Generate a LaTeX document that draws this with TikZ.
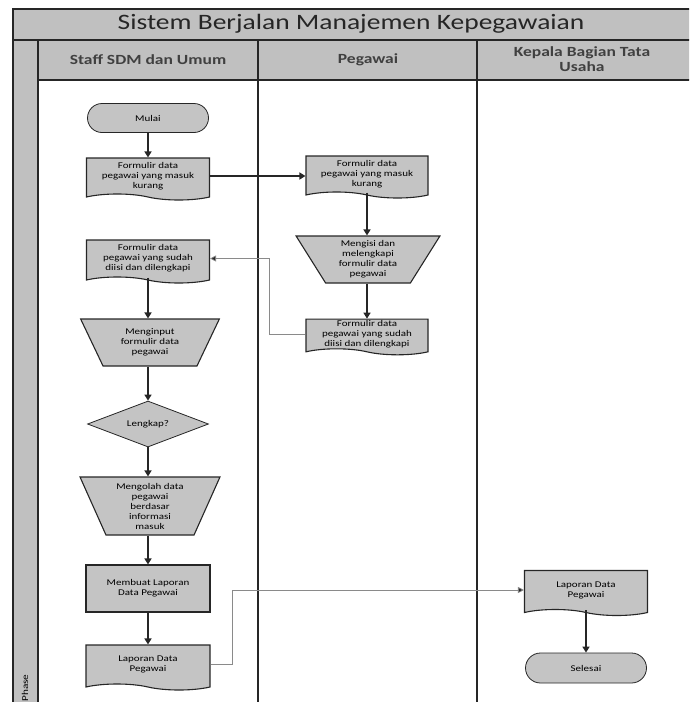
\documentclass[tikz,border=0pt]{standalone}
\usepackage{fontspec}
\setmainfont{Carlito}
\newfontfamily\stretched[FakeStretch=1.25]{Carlito}
\usetikzlibrary{shapes.geometric,shapes.symbols,shapes.misc,arrows.meta}
\definecolor{hdr}{HTML}{C0C0C0}
\definecolor{shpfill}{HTML}{C4C4C4}
\definecolor{edge}{HTML}{262626}
\definecolor{thinline}{HTML}{8A8A8A}
\begin{document}
\begin{tikzpicture}[x=1pt,y=-1pt,
  frame/.style={draw=edge,line width=1.6pt},
  shapetext/.style={font=\stretched\fontsize{8.8}{10}\selectfont,align=center,inner sep=1pt},
  box/.style={shapetext,draw=edge,line width=1.1pt,fill=shpfill},
  procbox/.style 2 args={box,rectangle,minimum width=#1,minimum height=#2},
  docbox/.style 2 args={box,tape,tape bend top=none,tape bend bottom=out and in,tape bend height=6pt,minimum width=#1,minimum height=#2},
  termbox/.style 2 args={box,rounded rectangle,line width=0.8pt,minimum width=#1,minimum height=#2},
  manualbox/.style n args={3}{box,trapezium,shape border rotate=180,trapezium stretches=true,trapezium left angle=#3,trapezium right angle=#3,minimum width=#1,minimum height=#2},
  decbox/.style 2 args={box,diamond,aspect=2.6,line width=0.8pt,minimum width=#1,minimum height=#2},
  conn/.style={draw=edge,line width=1.5pt,-{Triangle[length=6pt,width=7pt]}},
  thinconn/.style={draw=thinline,line width=0.7pt,-{Triangle[length=6pt,width=6pt,fill=edge]}},
  headtext/.style={font=\stretched\bfseries\fontsize{14}{15}\selectfont,align=center,text=black!75}
]
\useasboundingbox (0,0) rectangle (689,702);
\begin{scope}
\clip (0,0) rectangle (689,702);
% frame
\fill[hdr] (13,9) rectangle (692,40);
\fill[hdr] (13,40) rectangle (38,705);
\fill[hdr] (38,40) rectangle (692,80);
\draw[frame] (692,9) -- (13,9) -- (13,705);
\draw[frame] (13,40) -- (692,40);
\draw[frame] (38,80) -- (692,80);
\draw[frame] (38,40) -- (38,705);
\draw[frame] (258,40) -- (258,705);
\draw[frame] (477,40) -- (477,705);
\node[font=\stretched\fontsize{22}{24}\selectfont,text=black!85] (title) at (351,24) {Sistem Berjalan Manajemen Kepegawaian};
\node[headtext] (h1) at (148,60) {Staff SDM dan Umum};
\node[headtext] (h2) at (368,60) {Pegawai};
\node[headtext] (h3) at (582,59) {Kepala Bagian Tata\\Usaha};
\node[font=\stretched\fontsize{9}{10}\selectfont,rotate=90] (phase) at (25,688) {Phase};
\end{scope}
% shapes
\node[termbox={123pt}{29pt}] (mulai) at (148,118) {Mulai};
\node[docbox={123pt}{42pt}] (doc1) at (148,176) {Formulir data\\pegawai yang masuk\\kurang};
\node[docbox={122pt}{42pt}] (doc2) at (367,174) {Formulir data\\pegawai yang masuk\\kurang};
\node[manualbox={144pt}{47pt}{62}] (isi) at (368,259.5) {Mengisi dan\\melengkapi\\formulir data\\pegawai};
\node[docbox={122pt}{32pt}] (doc3) at (367,334) {Formulir data\\pegawai yang sudah\\diisi dan dilengkapi};
\node[docbox={123pt}{43pt}] (doc4) at (148,258.5) {Formulir data\\pegawai yang sudah\\diisi dan dilengkapi};
\node[manualbox={140pt}{47pt}{64}] (input) at (150,342.5) {Menginput\\formulir data\\pegawai};
\node[decbox={121pt}{46pt}] (lengkap) at (148,424) {Lengkap?};
\node[manualbox={140pt}{58pt}{67}] (olah) at (150,506) {Mengolah data\\pegawai\\berdasar\\informasi\\masuk};
\node[procbox={124pt}{47pt}] (buat) at (148,588.5) {Membuat Laporan\\Data Pegawai};
\node[docbox={124pt}{45pt}] (lap1) at (148,664.5) {Laporan Data\\Pegawai};
\node[docbox={123pt}{45pt}] (lap2) at (586,590) {Laporan Data\\Pegawai};
\node[termbox={123pt}{30pt}] (selesai) at (586,668) {Selesai};
% connectors
\draw[conn] (mulai.south) -- (mulai.south |- doc1.north);
\draw[conn] (doc1.east) -- (doc1.east -| doc2.west);
\draw[conn] (doc2.south) -- (doc2.south |- isi.north);
\draw[conn] (isi.south -| doc2.south) -- (doc2.south |- doc3.north);
\draw[thinconn] (doc3.west) -- ++(-36,0) |- (doc4.east);
\draw[conn] (doc4.south) -- (doc4.south |- input.north);
\draw[conn] (input.south -| doc4.south) -- (doc4.south |- lengkap.north);
\draw[conn] (lengkap.south) -- (lengkap.south |- olah.north);
\draw[conn] (olah.south -| lengkap.south) -- (lengkap.south |- buat.north);
\draw[conn] (buat.south) -- (buat.south |- lap1.north);
\draw[thinconn] (lap1.east) -- ++(22,0) |- (lap2.west);
\draw[conn] (lap2.south) -- (lap2.south |- selesai.north);
\end{tikzpicture}
\end{document}
